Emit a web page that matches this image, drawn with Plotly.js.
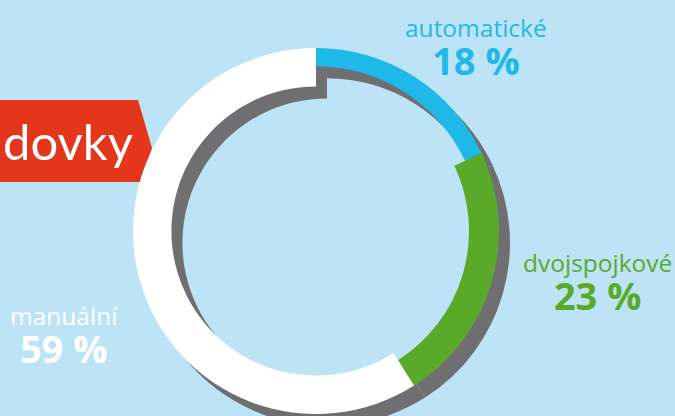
<!DOCTYPE html>
<html><head><meta charset="utf-8">
<script src="https://cdn.plot.ly/plotly-3.0.1.min.js"></script>
<style>html,body{margin:0;padding:0;overflow:hidden;background:#bde4f6;width:675px;height:416px}#c{width:675px;height:440px}</style>
</head><body><div id="c"></div>
<script>
// data
const categories = ['automatické', 'dvojspojkové', 'manuální'];
const shares = [18, 23, 59];
const shareLabels = ['18 %', '23 %', '59 %'];
const title = 'dovky';

const W = 675, H = 440;
const colors = ['#1eb9e9', '#5aaa2a', '#ffffff'];
const holes = [0.90, 0.836, 0.79];
const shadow = '#6f6f71';
const T = 'rgba(0,0,0,0)';
const px = x => x / W, py = y => (H - y) / H;

const main = {x: [px(133), px(499)], y: [py(414), py(48)]};
const shad = {x: [px(144), px(510)], y: [py(426), py(60)]};

function pieFor(i, dom, col) {
  return {
    type: 'pie', values: shares, labels: categories, sort: false,
    direction: 'clockwise', rotation: 0, hole: holes[i],
    marker: {colors: shares.map((_, j) => j === i ? col : T), line: {width: 0}},
    textinfo: 'none', hoverinfo: 'skip', showlegend: false, domain: dom
  };
}
const traces = [];
for (let i = 0; i < 3; i++) traces.push(pieFor(i, shad, shadow));
for (let i = 0; i < 3; i++) traces.push(pieFor(i, main, colors[i]));

const F = 'Open Sans, sans-serif';
function ann(i, x, y) {
  return {text: '<span style="font-size:24.5px">' + categories[i] + '</span><br><b><span style="font-size:38px">' + shareLabels[i] + '</span></b>',
    x: px(x), y: py(y), xref: 'paper', yref: 'paper', align: 'center',
    xanchor: 'center', yanchor: 'middle', showarrow: false,
    font: {family: F, size: 29, color: colors[i]}};
}
const annotations = [
  ann(0, 476, 49),
  ann(1, 597, 283),
  ann(2, 64, 336),
  {text: title, x: px(0.5), y: py(141), xref: 'paper', yref: 'paper', xanchor: 'left', yanchor: 'middle',
   showarrow: false, font: {family: 'Lato, sans-serif', size: 49, color: '#ffffff'}}
];

const tag = `M ${px(-5)} ${py(100)} L ${px(138)} ${py(100)} L ${px(152)} ${py(148)} L ${px(141)} ${py(182)} L ${px(-5)} ${py(182)} Z`;

Plotly.newPlot('c', traces, {
  width: W, height: H, margin: {l: 0, r: 0, t: 0, b: 0},
  paper_bgcolor: '#bde4f6', plot_bgcolor: '#bde4f6',
  shapes: [{type: 'path', xref: 'paper', yref: 'paper', path: tag, fillcolor: '#e4361b', line: {width: 0}, layer: 'below'}],
  annotations: annotations
}, {displayModeBar: false, staticPlot: true});
</script></body></html>
